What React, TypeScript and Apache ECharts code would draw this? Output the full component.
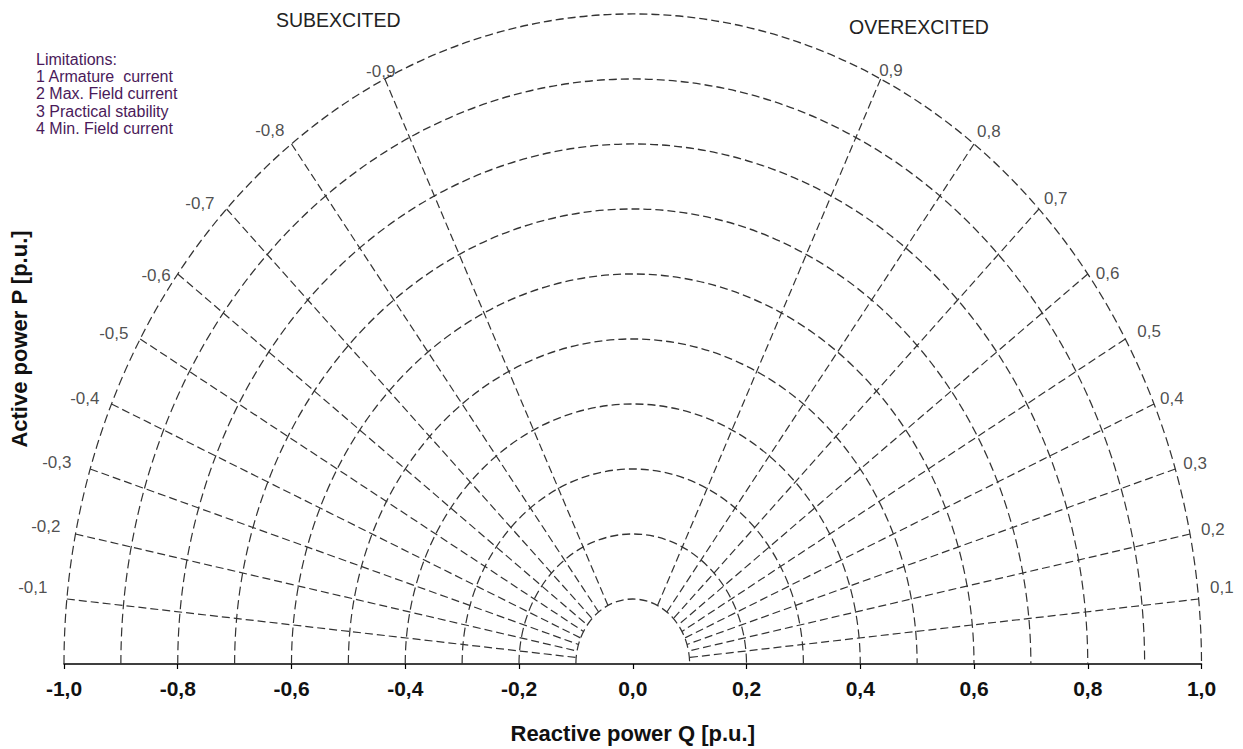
import React, { useEffect, useRef } from "react";
import * as echarts from "echarts";

// Circles of apparent power S (p.u.)
const RADII = [0.1, 0.2, 0.3, 0.4, 0.5, 0.6, 0.7, 0.8, 0.9, 1.0];
// Power-factor rays (negative = subexcited side)
const POWER_FACTORS = [-0.9, -0.8, -0.7, -0.6, -0.5, -0.4, -0.3, -0.2, -0.1, 0.1, 0.2, 0.3, 0.4, 0.5, 0.6, 0.7, 0.8, 0.9];
const X_MIN = -1.0;
const X_MAX = 1.0;
const X_STEP = 0.2;
const LEGEND_LINES = ["Limitations:", "1 Armature  current", "2 Max. Field current", "3 Practical stability", "4 Min. Field current"];
const SIDE_TITLES = ["SUBEXCITED", "OVEREXCITED"];
const X_TITLE = "Reactive power Q [p.u.]";
const Y_TITLE = "Active power P [p.u.]";

// pixel offsets of the power-factor labels from the end of each ray (style only)
const LABEL_OFFSETS: number[][] = [
  [10.5, -7.5], [-7, -14], [-12, -5.5], [-7, 1.5], [-11.7, -6], [-12, -6], [-18.7, -6.6], [-15, -7.4], [-19.4, -11.2],
  [11.4, -11.7], [11, -4.4], [8, -6], [6, -6], [12, -7.5], [8, -0.5], [5, -11], [3, -12.6], [-1.5, -8.5],
];

const FONT = '"Liberation Sans", Arial, Helvetica, sans-serif';
const comma = (v: number) => (Math.abs(v) < 1e-9 ? 0 : v).toFixed(1).replace(".", ",");

export default function App() {
  const ref = useRef<HTMLDivElement>(null);
  useEffect(() => {
    if (!ref.current) return;
    const chart = echarts.init(ref.current, undefined, { renderer: "svg" });
    const rIn = RADII[0];
    const rOut = RADII[RADII.length - 1];
    const dashStyle = { stroke: "#333", fill: "none", lineWidth: 1.2, lineDash: [8, 4] };

    const labelData = POWER_FACTORS.map((pf, i) => {
      const p = Math.abs(pf);
      const s = Math.sign(pf);
      const q = Math.sqrt(1 - p * p);
      const right = s > 0;
      return {
        value: [s * q * rOut, p * rOut],
        name: comma(pf),
        label: {
          align: right ? "left" : "right",
          verticalAlign: "middle",
          offset: LABEL_OFFSETS[i],
        },
      };
    });

    const legendGraphics = LEGEND_LINES.map((t, i) => ({
      type: "text",
      x: 36,
      y: 59 + i * 17.4,
      style: { text: t, font: `16px ${FONT}`, fill: "#4a1a5a", verticalAlign: "middle", align: "left" },
    }));

    chart.setOption({
      animation: false,
      grid: { left: 63.5, right: 41.5, top: 14, bottom: 82 },
      xAxis: {
        type: "value",
        min: X_MIN,
        max: X_MAX,
        interval: X_STEP,
        name: X_TITLE,
        nameLocation: "middle",
        nameGap: 58,
        nameTextStyle: { fontFamily: FONT, fontWeight: "bold", fontSize: 22, color: "#111" },
        axisLine: { lineStyle: { color: "#000", width: 1.5 } },
        axisTick: { show: true, inside: false, length: 5, lineStyle: { color: "#000", width: 1.2 } },
        axisLabel: {
          formatter: (v: number) => comma(v),
          fontFamily: FONT,
          fontWeight: "bold",
          fontSize: 21,
          color: "#111",
          margin: 14,
        },
        splitLine: { show: false },
      },
      yAxis: {
        type: "value",
        min: 0,
        max: 1,
        name: Y_TITLE,
        nameLocation: "middle",
        nameGap: 34,
        nameTextStyle: { fontFamily: FONT, fontWeight: "bold", fontSize: 22, color: "#111" },
        axisLine: { show: false },
        axisTick: { show: false },
        axisLabel: { show: false },
        splitLine: { show: false },
      },
      graphic: [
        ...legendGraphics,
        {
          type: "text",
          x: 276,
          y: 20,
          style: { text: SIDE_TITLES[0], font: `19.5px ${FONT}`, fill: "#222", verticalAlign: "middle", align: "left" },
        },
        {
          type: "text",
          x: 849,
          y: 27,
          style: { text: SIDE_TITLES[1], font: `19.5px ${FONT}`, fill: "#222", verticalAlign: "middle", align: "left" },
        },
      ],
      series: [
        {
          type: "custom",
          name: "circles",
          silent: true,
          data: RADII.map((r) => [r, 0]),
          encode: { x: 0, y: 1 },
          renderItem: (params: any, api: any) => {
            const r = api.value(0);
            const c = api.coord([0, 0]);
            const e = api.coord([r, 0]);
            const t = api.coord([0, r]);
            const rx = e[0] - c[0];
            const ry = c[1] - t[1];
            return {
              type: "arc",
              x: c[0],
              y: c[1],
              scaleY: ry / rx,
              shape: { cx: 0, cy: 0, r: rx, startAngle: Math.PI, endAngle: 2 * Math.PI, clockwise: true },
              style: dashStyle,
            };
          },
        },
        {
          type: "custom",
          name: "rays",
          silent: true,
          data: POWER_FACTORS.map((pf) => [pf, 0]),
          encode: { x: 0, y: 1 },
          renderItem: (params: any, api: any) => {
            const pf = api.value(0);
            const p = Math.abs(pf);
            const s = Math.sign(pf);
            const q = Math.sqrt(1 - p * p);
            const a = api.coord([s * q * rIn, p * rIn]);
            const b = api.coord([s * q * rOut, p * rOut]);
            return {
              type: "line",
              shape: { x1: b[0], y1: b[1], x2: a[0], y2: a[1] },
              style: dashStyle,
            };
          },
        },
        {
          type: "scatter",
          name: "pf labels",
          silent: true,
          symbolSize: 1,
          itemStyle: { color: "rgba(0,0,0,0)" },
          data: labelData,
          label: {
            show: true,
            position: "inside",
            formatter: (p: any) => p.name,
            fontFamily: FONT,
            fontSize: 17,
            color: "#222",
          },
        },
      ],
    });
    return () => chart.dispose();
  }, []);
  return <div ref={ref} style={{ position: "absolute", left: 0, top: 0, width: 1243, height: 749 }} />;
}
